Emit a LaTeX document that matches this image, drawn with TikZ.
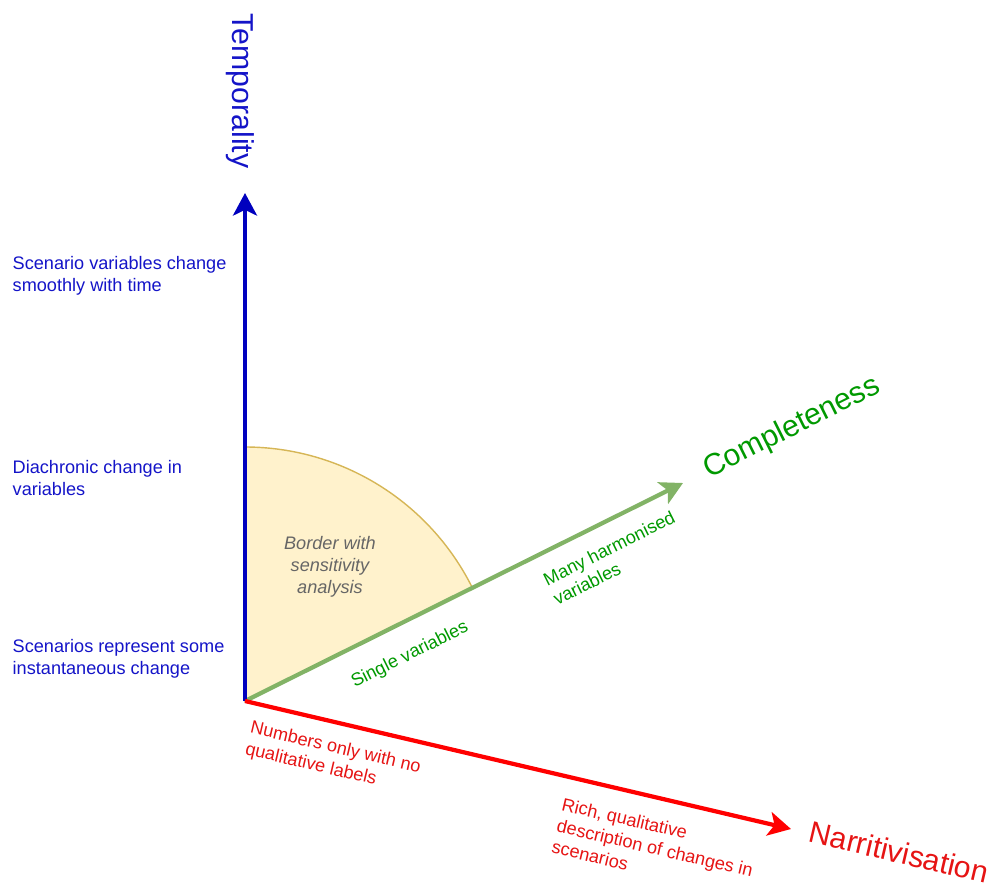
\documentclass[tikz,border=0pt]{standalone}
\usepackage{fontspec}
\setmainfont{Liberation Sans}
\usetikzlibrary{arrows.meta}

\definecolor{tempaxis}{RGB}{0,0,190}
\definecolor{temptext}{RGB}{20,20,200}
\definecolor{compaxis}{RGB}{130,179,102}
\definecolor{comptext}{RGB}{0,153,0}
\definecolor{narraxis}{RGB}{255,0,0}
\definecolor{narrtext}{RGB}{230,20,20}
\definecolor{sectorfill}{RGB}{255,242,204}
\definecolor{sectorline}{RGB}{214,182,86}

\tikzset{
  axis/.style={line width=3pt, -{Stealth[length=16pt,width=17pt,inset=4pt]}},
  note/.style={inner sep=0pt, align=left, font=\fontsize{12.9}{15.6}\selectfont},
  axtitle/.style={inner sep=0pt, font=\fontsize{21.5}{26}\selectfont},
}

\begin{document}
\begin{tikzpicture}[line width=1pt]

  \useasboundingbox (-6.125,-4.775) rectangle (18.725,17.525);

  % Origin and the three axis tips
  \coordinate (O) at (0,0);
  \coordinate (Ttip) at (0,12.7);
  \coordinate (Ctip) at (10.95,5.45);
  \coordinate (Ntip) at (13.65,-3.2);

  % The shaded sector
  \draw[fill=sectorfill, draw=sectorline] (O) -- (0,6.35)
    arc[start angle=90, end angle=26.46, radius=6.35] -- cycle;
  \node[note, align=center, text=black!60, font=\fontsize{12.9}{15.6}\selectfont\itshape]
    (border) at (2.125,3.35) {Border with\\sensitivity\\analysis};

  % The three axes
  \draw[axis, compaxis] (O) -- (Ctip);
  \draw[axis, tempaxis] (O) -- (Ttip);
  \draw[axis, narraxis] (O) -- (Ntip);

  % Axis titles
  \node[axtitle, text=temptext, rotate=-90] (temporality) at (-0.125,15.25) {Temporality};
  \node[axtitle, text=comptext, rotate=26.46] (completeness) at (13.675,6.825) {Completeness};
  \node[axtitle, text=narrtext, rotate=-13.2] (narrative) at (16.35,-3.775) {Narritivisation};

  % Labels along the temporality axis
  \node[note, text=temptext, anchor=west] (tsmooth) at (-5.825,10.625)
    {Scenario variables change\\smoothly with time};
  \node[note, text=temptext, anchor=west] (tdiach) at (-5.825,5.575)
    {Diachronic change in\\variables};
  \node[note, text=temptext, anchor=west] (tinst) at (-5.825,1.05)
    {Scenarios represent some\\instantaneous change};

  % Labels along the completeness axis
  \node[note, text=comptext, rotate=26.46] (csingle) at (4.125,1.15) {Single variables};
  \node[note, text=comptext, rotate=26.46] (cmany) at (9.225,3.575)
    {Many harmonised\\variables};

  % Labels along the narrative axis
  \node[note, text=narrtext, rotate=-13.2] (nnumbers) at (2.2,-1.45)
    {Numbers only with no\\qualitative labels};
  \node[note, text=narrtext, rotate=-13.2] (nrich) at (10.25,-3.675)
    {Rich, qualitative\\description of changes in\\scenarios};

\end{tikzpicture}
\end{document}
